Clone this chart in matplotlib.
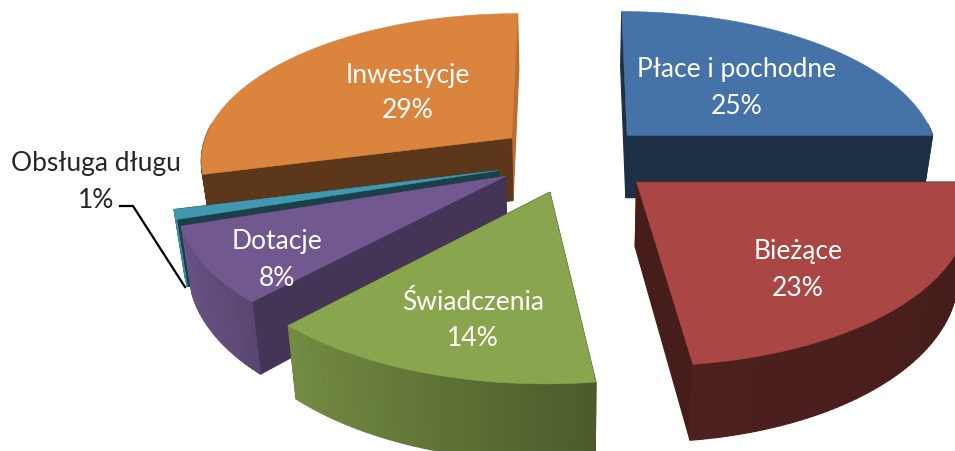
import numpy as np
import matplotlib
matplotlib.use("Agg")
import matplotlib.pyplot as plt
from matplotlib.patches import Polygon

plt.rcParams['font.family'] = ['Lato', 'DejaVu Sans']

# dane
labels = ["Płace i pochodne", "Bieżące", "Świadczenia", "Dotacje", "Obsługa długu", "Inwestycje"]
values = [25, 23, 14, 8, 1, 29]

colors = ["#4572a7", "#aa4643", "#89a54e", "#71588f", "#4198af", "#db843d"]
label_pos = [(737, 88), (798, 270), (473, 320), (277, 260), (96, 182), (408, 93)]

# styl kawalkow
slice_dx = [15, 20, 2, -8, -8, -7]
slice_dy = [-6, 0, 1, -2, 0, -6]
slice_r = [0.98, 1.01, 1.03, 1.0, 1.0, 0.98]
side_k = [(0.42, 0.42), (0.42, 0.42), (0.42, 0.42), (0.6, 0.6), (0.42, 0.42), (0.42, 0.85)]
rim_k = [(0.42, 0.42), (0.46, 0.41), (0.85, 0.55), (0.93, 0.8), (0.9, 0.9), (0.42, 0.42)]

# rzut perspektywiczny
cx, cy = 568, 162
F = 318
T = 0.47
D = 7.0
H = 0.2
ZK = 0.14
EXPLODE = 0.2


def project(x, y, z, dx=0, dy=0):
    s = D / (D + y)
    return cx + dx + F * x * s * (1 + ZK * z), cy + dy - F * T * y * s - F * z * s


def shade(col, k):
    rgb = np.array(matplotlib.colors.to_rgb(col))
    return tuple(np.clip(rgb * k, 0, 1))


fig = plt.figure(figsize=(9.55, 4.51), dpi=100)
ax = fig.add_axes([0, 0, 1, 1])
ax.set_xlim(0, 955)
ax.set_ylim(451, 0)
ax.axis("off")

fracs = np.array(values) / sum(values)
ends = np.cumsum(fracs) * 2 * np.pi
starts = ends - fracs * 2 * np.pi

# kolejnosc rysowania: najpierw tyl
order = [5, 0, 4, 3, 2, 1]
for i in order:
    a0, a1 = starts[i], ends[i]
    mid = (a0 + a1) / 2
    r = slice_r[i]
    dx, dy = slice_dx[i], slice_dy[i]
    ox, oy = EXPLODE * np.sin(mid), EXPLODE * np.cos(mid)
    th = np.linspace(a0, a1, max(int((a1 - a0) * 60), 3))
    px, py = ox + r * np.sin(th), oy + r * np.cos(th)

    quads = []
    # scianki promieniowe
    for a, k in zip((a0, a1), side_k[i]):
        ex, ey = ox + r * np.sin(a), oy + r * np.cos(a)
        quads.append((oy + r * np.cos(a) / 2, [(ox, oy, 0), (ex, ey, 0), (ex, ey, -H), (ox, oy, -H)], shade(colors[i], k)))
    # rant
    kl, kr = rim_k[i]
    for j in range(len(th) - 1):
        if np.cos(th[j]) > 0.1:
            continue
        t = (px[j] - px.min()) / (px.max() - px.min())
        k = kl + (kr - kl) * t
        quads.append((py[j], [(px[j], py[j], 0), (px[j + 1], py[j + 1], 0), (px[j + 1], py[j + 1], -H), (px[j], py[j], -H)], shade(colors[i], k)))
    quads.sort(key=lambda q: -q[0])
    for _, pts, c in quads:
        ax.add_patch(Polygon([project(*p, dx, dy) for p in pts], facecolor=c, edgecolor=c, lw=0.9))

    top = [project(ox, oy, 0, dx, dy)] + [project(a, b, 0, dx, dy) for a, b in zip(px, py)]
    ax.add_patch(Polygon(top, facecolor=colors[i], edgecolor=colors[i], lw=0.4))

for i, (x, y) in enumerate(label_pos):
    col = "#262626" if i == 4 else "white"
    ax.text(x, y, f"{labels[i]}\n{values[i]}%", color=col, fontsize=19, ha="center", va="center", linespacing=1.55)

ax.plot([120, 133, 185], [206, 206, 287], color="black", lw=1.6)

fig.savefig("out.png", dpi=100)
